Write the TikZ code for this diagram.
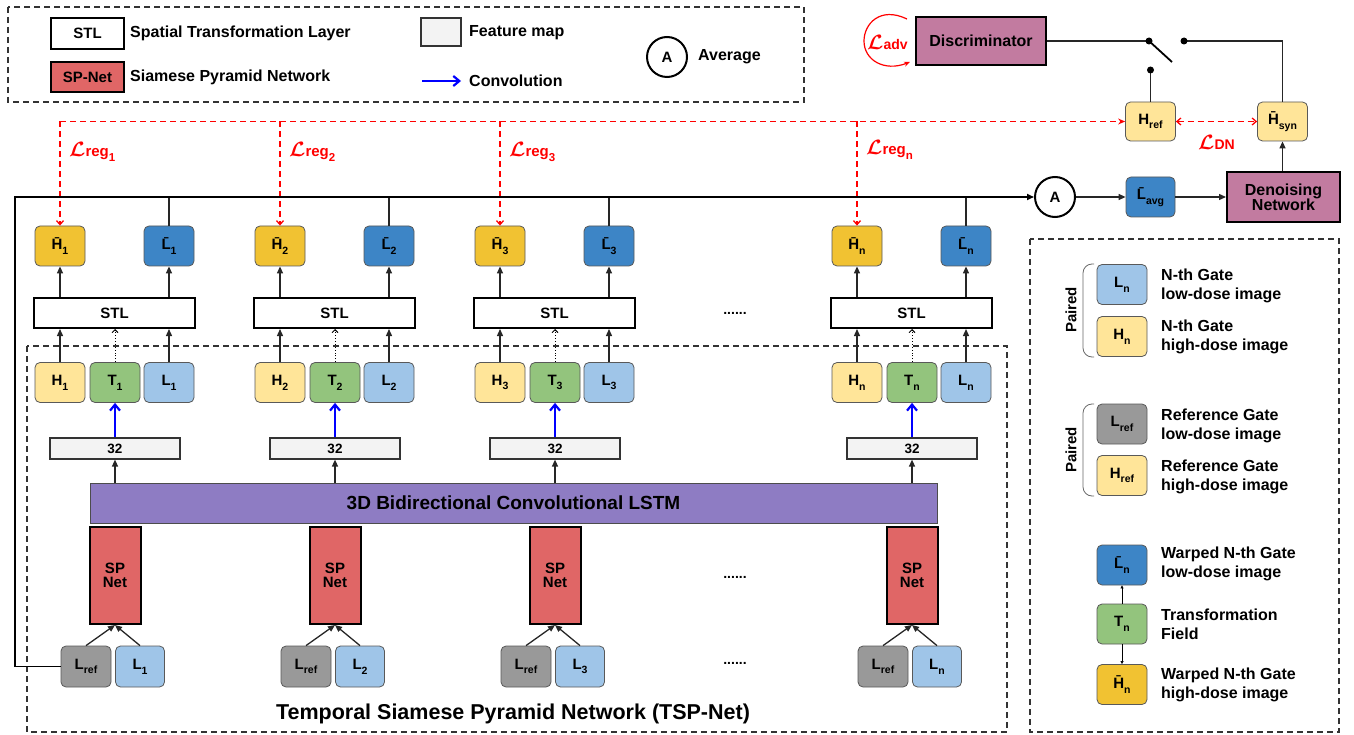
\documentclass[tikz,border=0pt]{standalone}
\usepackage{fontspec}
\setmainfont{Liberation Sans}
\usepackage{amsmath}
\usetikzlibrary{arrows.meta}
\definecolor{cHbar}{HTML}{F1C232}
\definecolor{cLbar}{HTML}{3D85C6}
\definecolor{cH}{HTML}{FFE599}
\definecolor{cT}{HTML}{93C47D}
\definecolor{cL}{HTML}{9FC5E8}
\definecolor{cLr}{HTML}{999999}
\definecolor{cSP}{HTML}{E06666}
\definecolor{cLSTM}{HTML}{8E7CC3}
\definecolor{cFM}{HTML}{F3F3F3}
\definecolor{cDisc}{HTML}{C27BA0}
\definecolor{cEdge}{HTML}{595959}
\definecolor{cRed}{HTML}{FF0000}
\definecolor{cBlue}{HTML}{0000FF}
\newcommand\sbx[1]{\raisebox{-0.6ex}{\fontsize{10.5}{10.5}\selectfont #1}}
\newcommand\sbl[1]{\raisebox{-0.6ex}{\fontsize{11.5}{11.5}\selectfont #1}}
\newcommand\Lsym{{\fontsize{22}{22}\selectfont$\boldsymbol{\mathcal{L}}$}}
\newcommand\fsz[1]{\fontsize{#1}{#1}\selectfont\bfseries}
\begin{document}
\begin{tikzpicture}[x=1pt,y=-1pt,
  tip/.style={-{Triangle[length=7pt,width=6pt]}},
  conn/.style={line width=1.3pt, draw=black!85},
  thickconn/.style={line width=1.6pt, draw=black},
  dashbox/.style={draw=black!80, line width=1.3pt, dash pattern=on 6pt off 4pt},
  redd/.style={draw=cRed, line width=1.3pt, dash pattern=on 6pt off 4pt},
  rtip/.style={-{Straight Barb[length=4pt,width=7pt]}},
  img/.style={draw=cEdge, line width=0.8pt, rounded corners=5pt, minimum width=50pt, minimum height=40pt, inner sep=0pt, font=\fsz{15}},
  hbar/.style={img, fill=cHbar},
  lbar/.style={img, fill=cLbar},
  hbox/.style={img, fill=cH},
  tbox/.style={img, fill=cT},
  lbox/.style={img, fill=cL},
  lrbox/.style={img, fill=cLr},
  stlbox/.style={draw=black, line width=2pt, fill=white, minimum width=161pt, minimum height=30pt, inner sep=0pt, font=\fsz{15}},
  fmbox/.style={draw=black!80, line width=1.2pt, fill=cFM, minimum width=130pt, minimum height=21pt, inner sep=0pt, font=\fsz{13.5}},
  spbox/.style={draw=black, line width=2pt, fill=cSP, minimum width=51pt, minimum height=97pt, inner sep=0pt, align=center, font=\fsz{15}},
  purplebox/.style={draw=black, line width=2pt, fill=cDisc, inner sep=0pt, align=center, font=\fsz{16}},
  avgc/.style={circle, draw=black, line width=2pt, fill=white, minimum size=40pt, inner sep=0pt, font=\fsz{15}},
  legtext/.style={anchor=west, inner sep=0pt, font=\fsz{16}},
  legtext2/.style={anchor=west, inner sep=0pt, align=left, font=\fontsize{16}{19}\selectfont\bfseries},
  loss/.style={anchor=west, inner sep=0pt, text=cRed, font=\fsz{15}},
  dots/.style={inner sep=0pt, font=\fsz{14}},
  convarrow/.style={draw=cBlue, line width=2.2pt, -{Straight Barb[length=6pt,width=10pt]}}
]
\useasboundingbox (0,0) rectangle (1354,735);

% ---------- top legend ----------
\draw[dashbox] (8,7) rectangle (804,102);
\node[stlbox, minimum width=73pt, minimum height=31pt] (lgstl) at (87.5,33.5) {STL};
\node[legtext] (lgstlt) at (130,33) {Spatial Transformation Layer};
\node[spbox, minimum width=73pt, minimum height=30pt] (lgsp) at (87.5,77) {SP-Net};
\node[legtext] (lgspt) at (130,77) {Siamese Pyramid Network};
\node[fmbox, minimum width=40pt, minimum height=28pt] (lgfm) at (441,32) {};
\node[legtext] (lgfmt) at (469,33) {Feature map};
\coordinate (cv1) at (422,81);
\coordinate (cv2) at (461,81);
\draw[convarrow] (cv1) -- (cv2);
\node[legtext] (lgcvt) at (469,81) {Convolution};
\node[avgc] (lgA) at (667,57) {A};
\node[legtext] (lgAt) at (698,57) {Average};

% ---------- TSP-Net box ----------
\draw[dashbox] (27,346) rectangle (1007,732);
\node[inner sep=0pt, font=\fsz{21.5}] (title) at (513,714) {Temporal Siamese Pyramid Network (TSP-Net)};

\node[draw=black!70, line width=0.8pt, fill=cLSTM, minimum width=847pt, minimum height=40pt, inner sep=0pt, font=\fsz{19}] (lstm) at (513.5,503) {3D Bidirectional Convolutional LSTM};

% ---------- right part ----------
\node[avgc] (A) at (1055,197) {A};
\node[lbar, minimum width=49pt] (lavg) at (1150.5,197) {\={L}\sbx{avg}};
\node[purplebox, minimum width=113pt, minimum height=50pt] (dn) at (1283.5,197) {Denoising\\[-1pt]Network};
\node[hbox, minimum height=39pt] (href) at (1150.5,121.5) {H\sbx{ref}};
\node[hbox, minimum height=39pt] (hsyn) at (1282.5,121.5) {\={H}\sbx{syn}};
\node[purplebox, minimum width=130pt, minimum height=48pt] (disc) at (981,41) {Discriminator};

% ---------- columns ----------
\foreach \i/\x in {1/34,2/254,3/474,n/831}{
  \node[hbar] (hb\i) at ({\x+26},246) {\={H}\sbx{\i}};
  \node[lbar] (lb\i) at ({\x+135},246) {\={L}\sbx{\i}};
  \node[stlbox] (stl\i) at ({\x+80.5},313) {STL};
  \node[hbox] (h\i) at ({\x+26},382.5) {H\sbx{\i}};
  \node[tbox] (t\i) at ({\x+81},382.5) {T\sbx{\i}};
  \node[lbox] (l\i) at ({\x+135},382.5) {L\sbx{\i}};
  \node[fmbox] (f\i) at ({\x+81},448.5) {32};
  \node[spbox] (sp\i) at ({\x+81},575.5) {SP\\[-1pt]Net};
  \node[lrbox, minimum height=41pt] (r\i) at ({\x+52},666.5) {L\sbx{ref}};
  \node[lbox, minimum width=49pt, minimum height=41pt] (b\i) at ({\x+106},666.5) {L\sbx{\i}};
  % arrows
  \draw[conn, tip] (stl\i.north -| hb\i.south) -- (hb\i.south);
  \draw[conn, tip] (stl\i.north -| lb\i.south) -- (lb\i.south);
  \draw[conn, tip] (h\i.north) -- (stl\i.south -| h\i.north);
  \draw[conn, tip] (l\i.north) -- (stl\i.south -| l\i.north);
  \draw[line width=0.9pt, dotted, -{Straight Barb[length=3pt,width=6pt]}] (t\i.north) -- (stl\i.south -| t\i.north);
  \draw[convarrow] (f\i.north) -- (t\i.south);
  \draw[conn, tip] (lstm.north -| f\i.south) -- (f\i.south);
  \draw[conn, tip] (r\i.north) -- (sp\i.south);
  \draw[conn, tip] (b\i.north) -- (sp\i.south);
  \draw[conn] (lb\i.north |- A.west) -- (lb\i.north);
  \draw[redd, rtip] (hb\i.north |- href.west) -- (hb\i.north);
}

% dots
\node[dots] (d1) at (735,313) {......};
\node[dots] (d2) at (735,577) {......};
\node[dots] (d3) at (735,663) {......};

% loss labels
\node[loss] (lr1) at (69,152) {\Lsym reg\sbl{1}};
\node[loss] (lr2) at (289,152) {\Lsym reg\sbl{2}};
\node[loss] (lr3) at (509,152) {\Lsym reg\sbl{3}};
\node[loss] (lrn) at (866,150) {\Lsym reg\sbl{n}};
\node[loss, font=\fsz{14}] (ldn) at (1198,142) {\Lsym DN};
\node[loss, font=\fsz{14}] (ladv) at (867,42) {\Lsym adv};

% main line
\draw[thickconn, tip] (r1.west) -- (15,666.5) -- (15,197) -- (A.west);
\draw[conn, tip] (A.east) -- (lavg.west);
\draw[conn, tip] (lavg.east) -- (dn.west);
\draw[conn, tip] (dn.north -| hsyn.south) -- (hsyn.south);

% red loss lines
\draw[redd, -{Stealth[length=7pt,width=6pt]}] (hb1.north |- href.west) -- (href.west);
\draw[redd, {Straight Barb[length=4pt,width=7pt]}-{Straight Barb[length=4pt,width=7pt]}] (href.east) -- (hsyn.west);
\draw[draw=cRed, line width=1.2pt, -{Stealth[length=6pt,width=5pt]}] (907,19) .. controls (880,6) and (864,24) .. (864,41) .. controls (864,60) and (884,72) .. (910,62);

% switch
\coordinate (sw1) at (1149,41);
\coordinate (sw2) at (1184,41);
\coordinate (sw3) at (1150.5,70);
\coordinate (swe) at (1172,62);
\draw[conn] (disc.east) -- (sw1);
\draw[line width=1.8pt] (sw1) -- (swe);
\draw[conn] (sw2) -- (hsyn.north |- sw2) -- (hsyn.north);
\draw[conn] (sw3) -- (href.north);
\fill (sw1) circle (3.5pt);
\fill (sw2) circle (3.5pt);
\fill (sw3) circle (3.5pt);

% ---------- right legend ----------
\draw[dashbox] (1030,239) rectangle (1339,732);
\node[lbox] (gL) at (1122,284.5) {L\sbx{n}};
\node[hbox] (gH) at (1122,336.5) {H\sbx{n}};
\node[lrbox] (gLr) at (1122,424) {L\sbx{ref}};
\node[hbox] (gHr) at (1122,475.5) {H\sbx{ref}};
\node[lbar] (gLb) at (1122,565) {\={L}\sbx{n}};
\node[tbox] (gT) at (1122,624) {T\sbx{n}};
\node[hbar] (gHb) at (1122,684.5) {\={H}\sbx{n}};
\node[legtext2] (gLt) at (1161,286) {N-th Gate\\low-dose image};
\node[legtext2] (gHt) at (1161,337) {N-th Gate\\high-dose image};
\node[legtext2] (gLrt) at (1161,426) {Reference Gate\\low-dose image};
\node[legtext2] (gHrt) at (1161,477) {Reference Gate\\high-dose image};
\node[legtext2] (gLbt) at (1161,564) {Warped N-th Gate\\low-dose image};
\node[legtext2] (gTt) at (1161,624) {Transformation\\Field};
\node[legtext2] (gHbt) at (1161,685) {Warped N-th Gate\\high-dose image};
\draw[line width=0.6pt, -{Triangle[length=3pt,width=3pt]}] (gT.north) -- (gLb.south);
\draw[line width=0.6pt, -{Triangle[length=3pt,width=3pt]}] (gT.south) -- (gHb.north);
\draw[draw=black!60, line width=0.8pt, rounded corners=9pt] (1094,264) -- (1083,264) -- (1083,357) -- (1094,357);
\draw[draw=black!60, line width=0.8pt, rounded corners=9pt] (1094,404) -- (1083,404) -- (1083,496) -- (1094,496);
\node[rotate=90, inner sep=0pt, font=\fsz{15}] (p1) at (1071,310) {Paired};
\node[rotate=90, inner sep=0pt, font=\fsz{15}] (p2) at (1071,450) {Paired};
\end{tikzpicture}
\end{document}
